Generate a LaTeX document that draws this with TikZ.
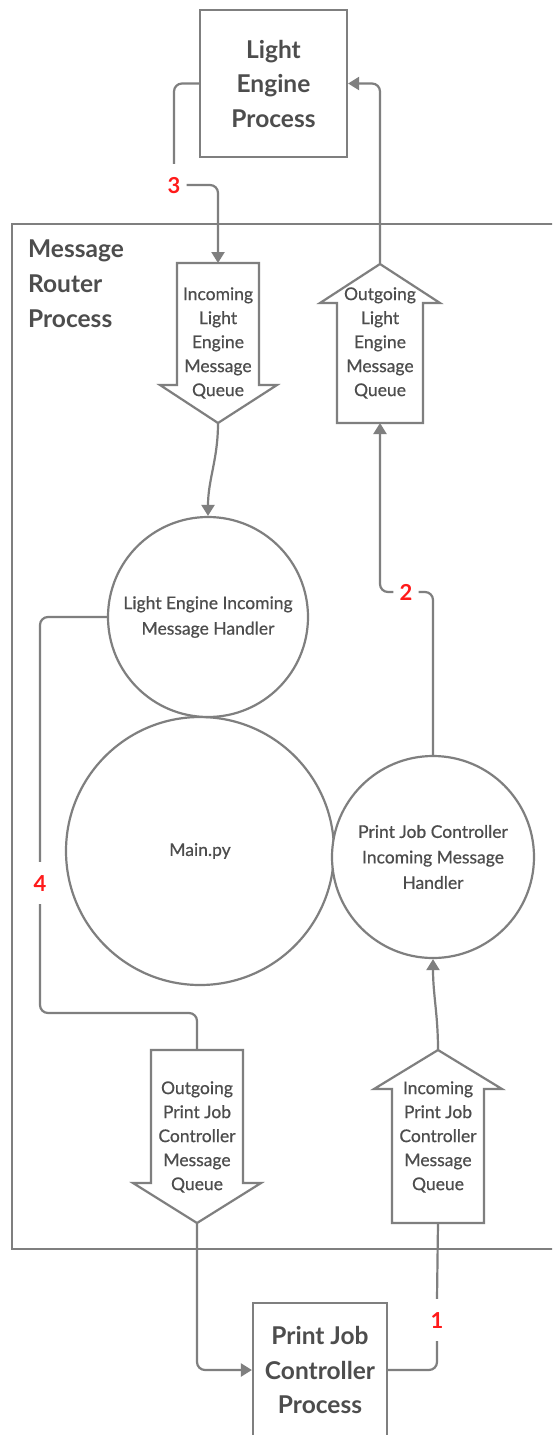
\documentclass[tikz,border=0pt]{standalone}
\usepackage{fontspec}
\setmainfont{Lato}
\newfontfamily\latotext[FakeBold=0.6]{Lato}
\usetikzlibrary{arrows.meta}
\definecolor{linegray}{HTML}{7F7F7F}
\definecolor{textgray}{HTML}{4D4D4D}
\definecolor{numred}{HTML}{FF1A1A}
\begin{document}
\begin{tikzpicture}[x=1pt,y=-1pt,
  conn/.style={draw=linegray, line width=2.2pt, rounded corners=8pt},
  arrowtip/.style={-{Triangle[width=13pt,length=11pt]}},
  outline/.style={draw=linegray, line width=2.2pt, line join=miter, fill=white},
  process/.style={outline, rectangle, inner sep=0pt, align=center, text=textgray,
    font=\bfseries\fontsize{24.5}{34.5}\selectfont},
  handler/.style={outline, circle, inner sep=0pt, align=center, text=textgray,
    font=\latotext\fontsize{17.5}{25.5}\selectfont},
  queuetext/.style={align=center, text=textgray, inner sep=0pt,
    font=\latotext\fontsize{17.5}{24}\selectfont},
  num/.style={text=numred, font=\bfseries\fontsize{22}{22}\selectfont,
    text height=16pt, text depth=0pt, inner xsep=6pt, inner ysep=13pt},
]
\useasboundingbox (0,0) rectangle (552,1435);
\clip (0,0) rectangle (552,1435);
\fill[white] (0,0) rectangle (552,1435);

% router container and its title
\node[draw=linegray, line width=2.2pt, minimum width=600pt, minimum height=1025pt,
  inner sep=0pt] (router) at (312,736.5) {};
\node[anchor=north west, align=left, text=textgray, inner sep=0pt,
  font=\bfseries\fontsize{24.5}{35}\selectfont] (routertitle) at (28,240)
  {Message\\Router\\Process};

% external processes
\node[process, minimum width=147pt, minimum height=147pt] (le) at (273.5,83.5)
  {Light\\Engine\\Process};
\node[process, minimum width=134pt, minimum height=134pt] (pjc) at (320,1370)
  {Print Job\\Controller\\Process};

% message handlers
\node[handler, minimum size=134pt*2] (main) at (200,851) {Main.py};
\node[handler, minimum size=200pt] (lec) at (208,617)
  {Light Engine Incoming\\Message Handler};
\node[handler, minimum size=202pt] (pjcc) at (433,857)
  {Print Job Controller\\Incoming Message\\Handler};

% queues: incoming light engine (down)
\draw[outline] (177,263) -- (259,263) -- (259,385) -- (277,385) -- (218,423)
  -- (160,385) -- (177,385) -- cycle;
\coordinate (inleTop) at (218,263);
\coordinate (inleTip) at (218,423);
\node[queuetext] (inle) at (218,343)
  {Incoming\\Light\\Engine\\Message\\Queue};

% outgoing light engine (up)
\draw[outline] (337,423) -- (337,303) -- (320,303) -- (380,264) -- (440,303)
  -- (423,303) -- (423,423) -- cycle;
\coordinate (outleTip) at (380,264);
\coordinate (outleBot) at (380,423);
\node[queuetext] (outle) at (380,343)
  {Outgoing\\Light\\Engine\\Message\\Queue};

% outgoing print job controller (down)
\draw[outline] (151,1050) -- (243,1050) -- (243,1183) -- (261,1183) -- (197,1223)
  -- (133,1183) -- (151,1183) -- cycle;
\coordinate (outpjTop) at (197,1050);
\coordinate (outpjTip) at (197,1223);
\node[queuetext] (outpj) at (197,1137)
  {Outgoing\\Print Job\\Controller\\Message\\Queue};

% incoming print job controller (up)
\draw[outline] (392,1223) -- (392,1089) -- (374,1089) -- (438,1050) -- (502,1089)
  -- (484,1089) -- (484,1223) -- cycle;
\coordinate (inpjTip) at (438,1050);
\coordinate (inpjBot) at (438,1223);
\node[queuetext] (inpj) at (438,1137)
  {Incoming\\Print Job\\Controller\\Message\\Queue};

% step labels
\node[num] (n1) at (437,1320) {1};
\node[num] (n2) at (406,592) {2};
\node[num] (n3) at (174,185) {3};
\node[num] (n4) at (40,883) {4};

% step 1: print job controller -> incoming queue
\draw[conn] (pjc.east) -| (n1.south);
\draw[conn] (n1.north) -- (inpjBot);
\draw[conn, arrowtip, rounded corners=0pt] (inpjTip) to[out=90, in=-90] (pjcc.south);

% step 2: handler -> outgoing light engine queue -> light engine
\draw[conn] (pjcc.north) |- (n2.east);
\draw[conn, arrowtip] (n2.west) -| (outleBot);
\draw[conn, arrowtip] (outleTip) |- (le.east);

% step 3: light engine -> incoming queue -> handler
\draw[conn] (le.west) -| (n3.north);
\draw[conn, arrowtip] (n3.east) -| (inleTop);
\draw[conn, arrowtip, rounded corners=0pt] (inleTip) to[out=-90, in=90] (lec.north);

% step 4: handler -> outgoing print job queue -> print job controller
\coordinate (bend4) at (120,1013);
\draw[conn] (lec.west) -| (n4.north);
\draw[conn] (n4.south) |- (bend4) -| (outpjTop);
\draw[conn, arrowtip] (outpjTip) |- (pjc.west);
\end{tikzpicture}
\end{document}
